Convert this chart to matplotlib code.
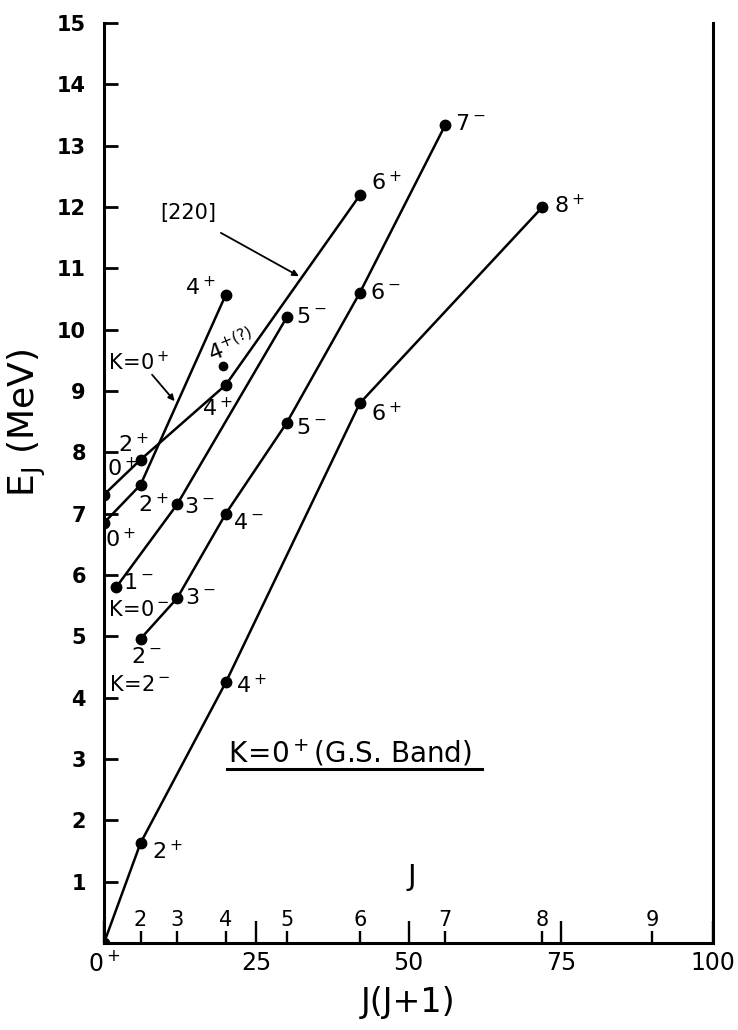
import matplotlib.pyplot as plt

plt.rcParams['mathtext.default'] = 'regular'
plt.rcParams['font.family'] = ['DejaVu Sans']

# J(J+1) positions and energies (MeV) for each band
gs_jj = [0, 6, 20, 42, 72]
gs_e = [0.0, 1.63, 4.25, 8.8, 12.0]
gs_lab = ['', '2^+', '4^+', '6^+', '8^+']

k2m_jj = [6, 12, 20, 30, 42, 56]
k2m_e = [4.96, 5.62, 7.0, 8.48, 10.6, 13.33]
k2m_lab = ['2^-', '3^-', '4^-', '5^-', '6^-', '7^-']

k0m_jj = [2, 12, 30]
k0m_e = [5.8, 7.15, 10.2]
k0m_lab = ['1^-', '3^-', '5^-']

k0p_jj = [0, 6, 20]
k0p_e = [6.85, 7.47, 10.57]
k0p_lab = ['0^+', '2^+', '4^+']

b220_jj = [0, 6, 20, 42]
b220_e = [7.31, 7.88, 9.10, 12.19]
b220_lab = ['0^+', '2^+', '4^+', '6^+']

q_jj = [19.5]
q_e = [9.4]

j_vals = [2, 3, 4, 5, 6, 7, 8, 9]
j_jj = [j * (j + 1) for j in j_vals]

fig = plt.figure(figsize=(7.38, 10.30), dpi=100)
ax = fig.add_axes([104 / 738, 87 / 1030, 609 / 738, 920 / 1030])

lw = 1.8
ms = 7.5
fs = 16


def band(jj, ee, labels, offsets):
    ax.plot(jj, ee, '-', color='k', lw=lw, marker='o', ms=ms, mfc='k', mec='k')
    for x, y, t, (dx, dy, ha) in zip(jj, ee, labels, offsets):
        if not t:
            continue
        ax.annotate(f'${t}$', (x, y), xytext=(dx, dy), textcoords='offset points',
                    ha=ha, va='center', fontsize=fs)


band(gs_jj, gs_e, gs_lab,
     [(0, 0, 'left'), (8, -6, 'left'), (7, -2, 'left'), (8, -7, 'left'), (8, 1, 'left')])
band(k2m_jj, k2m_e, k2m_lab,
     [(4, -13, 'center'), (6, 0, 'left'), (5, -7, 'left'), (7, -4, 'left'),
      (7, 0, 'left'), (7, 1, 'left')])
band(k0m_jj, k0m_e, k0m_lab,
     [(5, 3, 'left'), (5, -2, 'left'), (7, 0, 'left')])
band(k0p_jj, k0p_e, k0p_lab,
     [(1, -12, 'left'), (-2, -14, 'left'), (-7, 5, 'right')])
band(b220_jj, b220_e, b220_lab,
     [(2, 19, 'left'), (-5, 11, 'center'), (-6, -17, 'center'), (8, 9, 'left')])

ax.plot(q_jj, q_e, 'o', color='k', ms=6)
ax.annotate('$4^{+(?)}$', (q_jj[0], q_e[0]), xytext=(6, 15), textcoords='offset points',
            ha='center', va='center', fontsize=fs, rotation=22)

# band names
ax.text(0.7, 9.47, '$K\\!=\\!0^+$', fontsize=15, ha='left', va='center')
ax.annotate('', xy=(11.9, 8.8), xytext=(7.6, 9.3),
            arrowprops=dict(arrowstyle='-|>', color='k', lw=1.3, mutation_scale=9))
ax.text(0.6, 5.43, '$K\\!=\\!0^-$', fontsize=15, ha='left', va='center')
ax.text(0.8, 4.2, '$K\\!=\\!2^-$', fontsize=15, ha='left', va='center')
ax.text(9.3, 11.9, '[220]', fontsize=15, ha='left', va='center')
ax.annotate('', xy=(32.4, 10.85), xytext=(18.8, 11.6),
            arrowprops=dict(arrowstyle='-|>', color='k', lw=1.3, mutation_scale=9))
ax.text(20.4, 3.1, '$K\\!=\\!0^+$(G.S. Band)', fontsize=20, ha='left', va='center')
ax.plot([20.2, 62], [2.84, 2.84], color='k', lw=2.2)

# J scale drawn inside along the bottom axis
ax.set_xticks(j_jj, minor=True)
for j, x in zip(j_vals, j_jj):
    ax.text(x, 0.37, str(j), fontsize=15, ha='center', va='center')
ax.text(50.5, 1.07, 'J', fontsize=21, ha='center', va='center')

ax.set_xlim(0, 100)
ax.set_ylim(0, 15)
ax.set_xticks([0, 25, 50, 75, 100])
ax.set_xticklabels(['$0^+$', '25', '50', '75', '100'], fontsize=17)
ax.set_yticks(range(1, 16))
ax.set_yticklabels([str(i) for i in range(1, 16)], fontsize=15, fontweight='bold')
ax.tick_params(axis='x', which='major', direction='in', length=16, width=1.7, pad=6)
ax.tick_params(axis='x', which='minor', direction='in', length=9, width=1.7)
ax.tick_params(axis='y', direction='in', length=10, width=2.0, pad=13)

ax.spines['top'].set_visible(False)
for s in ['left', 'right', 'bottom']:
    ax.spines[s].set_linewidth(2.2)

ax.set_xlabel('J(J+1)', fontsize=24)
ax.xaxis.set_label_coords(0.5, -0.047)
ax.set_ylabel('$E_J$ (MeV)', fontsize=26)
ax.yaxis.set_label_coords(-0.092, 0.565)

fig.savefig('out.png', dpi=100)
